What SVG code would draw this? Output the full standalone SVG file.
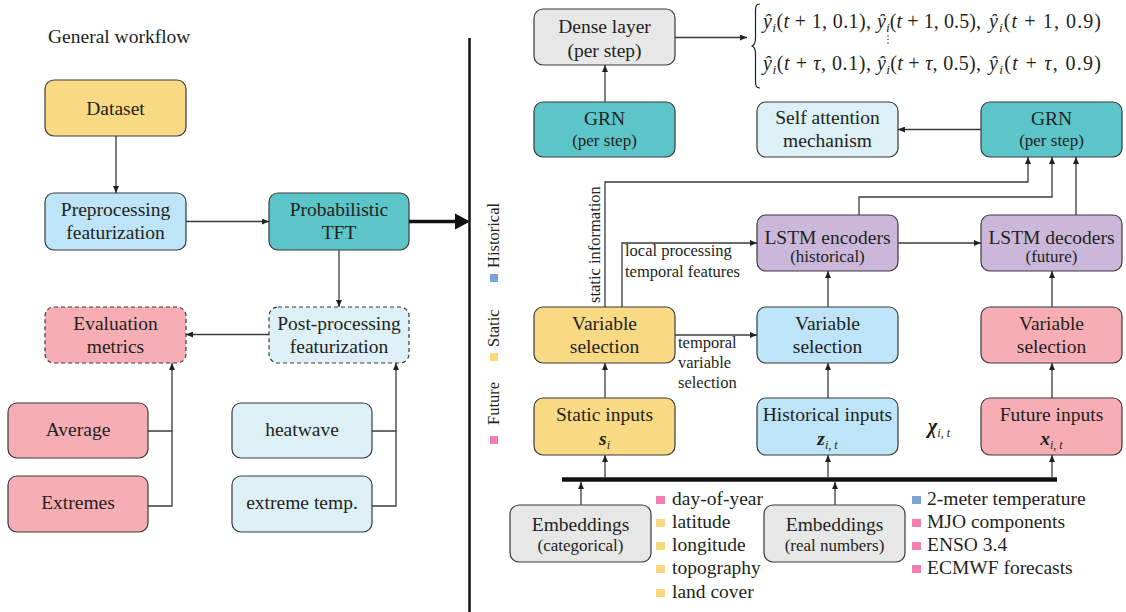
<svg xmlns="http://www.w3.org/2000/svg" width="1126" height="612" viewBox="0 0 1126 612">
<defs>
<marker id="ah" markerWidth="7" markerHeight="6" refX="7" refY="3" orient="auto" markerUnits="userSpaceOnUse"><path d="M0,0 L7,3 L0,6 z" fill="#222"/></marker>
<style>
text{font-family:"Liberation Serif","Times New Roman",serif;fill:#231f20}
.t{font-size:19.5px;text-anchor:middle}
.s{font-size:17px;text-anchor:middle}
.lbl{font-size:16.5px}
.leg{font-size:19.5px}
.box{stroke:#3a3a3a;stroke-width:1.2}
.dash{stroke-dasharray:4 3}
.y{fill:#F8D984}.b{fill:#BEE4F8}.tl{fill:#5BC5C9}.p{fill:#F6AEB4}.c{fill:#DCF0F6}.pu{fill:#CAB7DA}.g{fill:#E7E7E7}
.ln{fill:none;stroke:#3a3a3a;stroke-width:1.3}
.ar{marker-end:url(#ah)}
.math{font-size:20px}
.mi{font-style:italic}
.ms{font-size:13.5px;font-style:italic}
.bi{font-weight:bold;font-style:italic}
.sb{font-size:12px;font-style:italic}
</style>
</defs>
<rect width="1126" height="612" fill="#fff"/>

<text x="48" y="43" font-size="19.5">General workflow</text>

<!-- left workflow nodes -->
<g id="dataset"><rect class="box y" x="45" y="80" width="141" height="56" rx="9"/><text class="t" x="115.5" y="114.5">Dataset</text></g>
<g id="preprocessing"><rect class="box b" x="45" y="193" width="141" height="57" rx="9"/><text class="t" x="115.5" y="216">Preprocessing</text><text class="t" x="115.5" y="239">featurization</text></g>
<g id="tft"><rect class="box tl" x="269" y="193" width="140" height="57" rx="9"/><text class="t" x="339" y="216">Probabilistic</text><text class="t" x="339" y="239">TFT</text></g>
<g id="evaluation"><rect class="box p dash" x="45" y="307" width="141" height="56" rx="9"/><text class="t" x="115.5" y="330">Evaluation</text><text class="t" x="115.5" y="353">metrics</text></g>
<g id="postprocessing"><rect class="box c dash" x="269" y="307" width="140" height="56" rx="9"/><text class="t" x="339" y="330">Post-processing</text><text class="t" x="339" y="353">featurization</text></g>
<g id="average"><rect class="box p" x="8" y="403" width="140" height="55" rx="9"/><text class="t" x="78" y="436">Average</text></g>
<g id="extremes"><rect class="box p" x="8" y="476" width="140" height="56" rx="9"/><text class="t" x="78" y="509">Extremes</text></g>
<g id="heatwave"><rect class="box c" x="232" y="403" width="140" height="55" rx="9"/><text class="t" x="302" y="436">heatwave</text></g>
<g id="extremetemp"><rect class="box c" x="232" y="476" width="140" height="56" rx="9"/><text class="t" x="302" y="509">extreme temp.</text></g>

<!-- divider -->
<line x1="469.5" y1="38" x2="469.5" y2="612" stroke="#111" stroke-width="2.5"/>

<!-- legend rotated -->
<g id="series-legend">
<rect x="490" y="274" width="8" height="8" fill="#7BA3D6"/>
<text class="lbl" transform="translate(499,268) rotate(-90)">Historical</text>
<rect x="490" y="353" width="8" height="8" fill="#F9D97F"/>
<text class="lbl" transform="translate(499,347) rotate(-90)">Static</text>
<rect x="490" y="436" width="8" height="8" fill="#F17FB0"/>
<text class="lbl" transform="translate(499,425) rotate(-90)">Future</text>
</g>

<!-- right nodes -->
<g id="dense"><rect class="box g" x="534" y="9" width="141" height="56" rx="9"/><text class="t" x="604.5" y="33">Dense layer</text><text class="t" x="604.5" y="57">(per step)</text></g>
<g id="grn-left"><rect class="box tl" x="534" y="102" width="141" height="55" rx="9"/><text class="t" x="604.5" y="125">GRN</text><text class="s" x="604.5" y="145.5">(per step)</text></g>
<g id="self-attention"><rect class="box c" x="757" y="102" width="141" height="55" rx="9"/><text class="t" x="827.5" y="124">Self attention</text><text class="t" x="827.5" y="147">mechanism</text></g>
<g id="grn-right"><rect class="box tl" x="981" y="102" width="141" height="55" rx="9"/><text class="t" x="1051.5" y="125">GRN</text><text class="s" x="1051.5" y="145.5">(per step)</text></g>
<g id="lstm-enc"><rect class="box pu" x="757" y="215" width="141" height="56" rx="9"/><text class="t" x="827.5" y="243.5">LSTM encoders</text><text class="s" x="827.5" y="261.5">(historical)</text></g>
<g id="lstm-dec"><rect class="box pu" x="981" y="215" width="141" height="56" rx="9"/><text class="t" x="1051.5" y="243.5">LSTM decoders</text><text class="s" x="1051.5" y="261.5">(future)</text></g>
<g id="vs-static"><rect class="box y" x="534" y="307" width="141" height="56" rx="9"/><text class="t" x="604.5" y="330">Variable</text><text class="t" x="604.5" y="353">selection</text></g>
<g id="vs-hist"><rect class="box b" x="757" y="307" width="141" height="56" rx="9"/><text class="t" x="827.5" y="330">Variable</text><text class="t" x="827.5" y="353">selection</text></g>
<g id="vs-future"><rect class="box p" x="981" y="307" width="141" height="56" rx="9"/><text class="t" x="1051.5" y="330">Variable</text><text class="t" x="1051.5" y="353">selection</text></g>
<g id="static-inputs"><rect class="box y" x="534" y="398" width="141" height="57" rx="9"/><text class="t" x="604.5" y="420.5">Static inputs</text><text class="t" x="604.5" y="445"><tspan class="bi">s</tspan><tspan class="sb" dy="4">i</tspan></text></g>
<g id="hist-inputs"><rect class="box b" x="757" y="398" width="141" height="57" rx="9"/><text class="t" x="827.5" y="420.5">Historical inputs</text><text class="t" x="827.5" y="445"><tspan class="bi">z</tspan><tspan class="sb" dy="4">i, t</tspan></text></g>
<g id="future-inputs"><rect class="box p" x="981" y="398" width="141" height="57" rx="9"/><text class="t" x="1051.5" y="420.5">Future inputs</text><text class="t" x="1051.5" y="445"><tspan class="bi">x</tspan><tspan class="sb" dy="4">i, t</tspan></text></g>
<g id="chi"><text x="928" y="433" font-size="20"><tspan class="bi">χ</tspan><tspan class="sb" dy="4">i, t</tspan></text></g>
<g id="emb-cat"><rect class="box g" x="510" y="505" width="141" height="57" rx="9"/><text class="t" x="580.5" y="531">Embeddings</text><text class="s" x="580.5" y="550.5">(categorical)</text></g>
<g id="emb-real"><rect class="box g" x="764" y="505" width="141" height="57" rx="9"/><text class="t" x="834.5" y="531">Embeddings</text><text class="s" x="834.5" y="550.5">(real numbers)</text></g>

<!-- outputs math -->
<g id="outputs">
<path d="M760,4 C756,4 755.5,6 755.5,12 L755.5,38 C755.5,43 754.5,45.5 751.5,46 C754.5,46.5 755.5,49 755.5,54 L755.5,80 C755.5,86 756,88 760,88" fill="none" stroke="#222" stroke-width="1.2"/>
<text class="math" x="763" y="28" textLength="108" lengthAdjust="spacing"><tspan class="mi">ŷ</tspan><tspan class="ms" dy="4">i</tspan><tspan dy="-4">(</tspan><tspan class="mi">t</tspan> + 1, 0.1),</text>
<text class="math" x="877" y="28" textLength="104" lengthAdjust="spacing"><tspan class="mi">ŷ</tspan><tspan class="ms" dy="4">i</tspan><tspan dy="-4">(</tspan><tspan class="mi">t</tspan> + 1, 0.5),</text>
<text class="math" x="989" y="28" textLength="112" lengthAdjust="spacing"><tspan class="mi">ŷ</tspan><tspan class="ms" dy="4">i</tspan><tspan dy="-4">(</tspan><tspan class="mi">t</tspan> + 1, 0.9)</text>
<text class="math" x="763" y="70" textLength="108" lengthAdjust="spacing"><tspan class="mi">ŷ</tspan><tspan class="ms" dy="4">i</tspan><tspan dy="-4">(</tspan><tspan class="mi">t</tspan> + <tspan class="mi">τ</tspan>, 0.1),</text>
<text class="math" x="877" y="70" textLength="104" lengthAdjust="spacing"><tspan class="mi">ŷ</tspan><tspan class="ms" dy="4">i</tspan><tspan dy="-4">(</tspan><tspan class="mi">t</tspan> + <tspan class="mi">τ</tspan>, 0.5),</text>
<text class="math" x="989" y="70" textLength="112" lengthAdjust="spacing"><tspan class="mi">ŷ</tspan><tspan class="ms" dy="4">i</tspan><tspan dy="-4">(</tspan><tspan class="mi">t</tspan> + <tspan class="mi">τ</tspan>, 0.9)</text>
<circle cx="888" cy="36" r="0.7" fill="#222"/><circle cx="888" cy="39.5" r="0.7" fill="#222"/><circle cx="888" cy="43" r="0.7" fill="#222"/>
</g>

<!-- legend lists -->
<g id="static-list">
<rect x="656" y="496" width="9" height="8" fill="#F17FB0"/><text class="leg" x="672" y="505">day-of-year</text>
<rect x="656" y="519" width="9" height="8" fill="#F9D97F"/><text class="leg" x="672" y="528">latitude</text>
<rect x="656" y="542" width="9" height="8" fill="#F9D97F"/><text class="leg" x="672" y="551">longitude</text>
<rect x="656" y="565" width="9" height="8" fill="#F9D97F"/><text class="leg" x="672" y="574">topography</text>
<rect x="656" y="589" width="9" height="8" fill="#F9D97F"/><text class="leg" x="672" y="598">land cover</text>
</g>
<g id="real-list">
<rect x="912" y="496" width="9" height="8" fill="#7BA3D6"/><text class="leg" x="927" y="505">2-meter temperature</text>
<rect x="912" y="519" width="9" height="8" fill="#F17FB0"/><text class="leg" x="927" y="528">MJO components</text>
<rect x="912" y="542" width="9" height="8" fill="#F17FB0"/><text class="leg" x="927" y="551">ENSO 3.4</text>
<rect x="912" y="565" width="9" height="8" fill="#F17FB0"/><text class="leg" x="927" y="574">ECMWF forecasts</text>
</g>

<!-- connector labels -->
<g id="connector-labels">
<text class="lbl" transform="translate(600,303) rotate(-90)">static information</text>
<text class="lbl" x="625" y="256">local processing</text>
<text class="lbl" x="625" y="277">temporal features</text>
<text class="lbl" x="678" y="348">temporal</text>
<text class="lbl" x="678" y="368">variable</text>
<text class="lbl" x="678" y="388">selection</text>
</g>

<g id="connectors">
<path class="ln ar" d="M116,136 V193"/>
<path class="ln ar" d="M186,221.5 H269"/>
<path class="ln ar" d="M339,250 V307"/>
<path class="ln ar" d="M269,334.5 H186"/>
<path class="ln ar" d="M148,431 H172 V363"/>
<path class="ln" d="M148,506 H172 V431"/>
<path class="ln ar" d="M372,431 H396 V363"/>
<path class="ln" d="M372,506 H396 V431"/>
<path d="M409,221.5 H457" stroke="#111" stroke-width="3.5" fill="none"/>
<polygon points="455,213.5 470,221.5 455,229.5" fill="#111"/>

<path class="ln ar" d="M605,102 V65"/>
<path class="ln ar" d="M675,37.5 H747"/>
<path class="ln ar" d="M981,129.5 H898"/>
<path class="ln ar" d="M605,307 V182 H1028 V157"/>
<path class="ln ar" d="M859,215 V197 H1052 V157"/>
<path class="ln ar" d="M1076,215 V157"/>
<path class="ln ar" d="M622,307 V243 H757"/>
<path class="ln ar" d="M675,335 H757"/>
<path class="ln ar" d="M898,243 H981"/>
<path class="ln ar" d="M828,307 V271"/>
<path class="ln ar" d="M1052,307 V271"/>
<path class="ln ar" d="M605,398 V363"/>
<path class="ln ar" d="M828,398 V363"/>
<path class="ln ar" d="M1052,398 V363"/>
<path d="M562,479.5 H1057" stroke="#111" stroke-width="4.5" fill="none"/>
<path class="ln ar" d="M605,477 V455"/>
<path class="ln ar" d="M828,477 V455"/>
<path class="ln ar" d="M1052,477 V455"/>
<path class="ln ar" d="M581,505 V482"/>
<path class="ln ar" d="M835,505 V482"/>
</g>
</svg>
